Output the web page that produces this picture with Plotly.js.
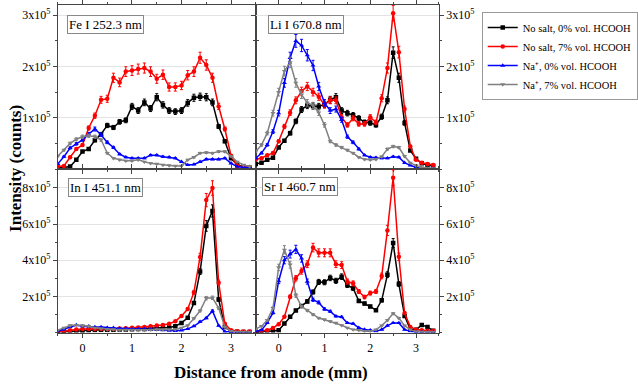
<!DOCTYPE html>
<html>
<head>
<meta charset="utf-8">
<script src="https://cdn.plot.ly/plotly-3.0.1.min.js"></script>
<style>
  body { margin: 0; background: #fff; }
  #chart { width: 638px; height: 384px; }
</style>
</head>
<body>
<div id="chart"></div>
<script>
// distance from anode (mm), same grid for every curve
var distance = [-0.5, -0.375, -0.25, -0.125, 0, 0.125, 0.25, 0.375, 0.5, 0.625, 0.75, 0.875,
  1, 1.125, 1.25, 1.375, 1.5, 1.625, 1.75, 1.875, 2, 2.125, 2.25, 2.375,
  2.5, 2.625, 2.75, 2.875, 3, 3.125, 3.25, 3.375];

var seriesNames = ["No salt, 0% vol. HCOOH", "No salt, 7% vol. HCOOH",
  "Na\u207A, 0% vol. HCOOH", "Na\u207A, 7% vol. HCOOH"];

// Fe I 252.3 nm (counts)
var feNoSalt0 = [3000, 3000, 5000, 18000, 34000, 39000, 56000, 68000, 85000, 81000, 92000, 95000,
  122000, 114000, 130000, 118000, 140000, 125000, 114000, 112000, 114000, 129000, 139000, 141000,
  140000, 130000, 83000, 54000, 21000, 8000, 5000, 3000];
var feNoSalt7 = [5000, 6000, 23000, 39000, 47000, 80000, 104000, 135000, 137000, 178000, 169000, 190000,
  192000, 195000, 197000, 190000, 176000, 184000, 160000, 160000, 163000, 183000, 190000, 217000,
  203000, 178000, 122000, 78000, 26000, 6000, 5000, 4000];
var feNa0 = [10000, 24000, 41000, 49000, 57000, 68000, 78000, 67000, 52000, 42000, 29000, 23000,
  21000, 21000, 21000, 27000, 27000, 24000, 23000, 21000, 14000, 8000, 9000, 14000,
  19000, 19000, 19000, 21000, 11000, 5000, 3000, 3000];
var feNa7 = [25000, 37000, 50000, 58000, 63000, 65000, 63000, 57000, 31000, 21000, 18000, 16000,
  16000, 18000, 14000, 11000, 10000, 8000, 7000, 6000, 6000, 18000, 23000, 31000,
  32000, 31000, 34000, 34000, 25000, 14000, 8000, 5000];

// Li I 670.8 nm
var liNoSalt0 = [10000, 12000, 18000, 22000, 42000, 55000, 70000, 93000, 116000, 124000, 123000, 122000,
  126000, 135000, 140000, 114000, 109000, 105000, 99000, 91000, 90000, 86000, 102000, 134000,
  227000, 178000, 90000, 36000, 20000, 11000, 8000, 6000];
var liNoSalt7 = [19000, 21000, 27000, 31000, 54000, 83000, 110000, 134000, 152000, 161000, 150000, 141000,
  125000, 134000, 134000, 101000, 86000, 99000, 88000, 88000, 101000, 91000, 138000, 197000,
  304000, 228000, 117000, 44000, 18000, 12000, 10000, 8000];
var liNa0 = [21000, 31000, 47000, 73000, 109000, 168000, 217000, 250000, 241000, 222000, 202000, 161000,
  129000, 114000, 117000, 96000, 63000, 52000, 39000, 27000, 23000, 22000, 21000, 21000,
  24000, 23000, 12000, 7000, 3000, 1000, 1000, 1000];
var liNa7 = [34000, 47000, 70000, 109000, 150000, 191000, 208000, 168000, 145000, 129000, 124000, 110000,
  86000, 54000, 47000, 42000, 37000, 31000, 23000, 19000, 18000, 19000, 24000, 39000,
  44000, 42000, 25000, 12000, 7000, 3000, 2000, 1000];

// In I 451.1 nm
var inNoSalt0 = [2000, 3000, 5000, 8000, 10000, 13000, 14000, 15000, 15000, 15000, 16000, 17000,
  18000, 19000, 20000, 21000, 22000, 24000, 28000, 35000, 53000, 81000, 163000, 338000,
  590000, 673000, 183000, 30000, 7000, 4000, 3000, 3000];
var inNoSalt7 = [7000, 7000, 13000, 17000, 20000, 20000, 20000, 20000, 20000, 20000, 22000, 24000,
  26000, 28000, 30000, 35000, 39000, 41000, 48000, 62000, 92000, 130000, 222000, 418000,
  733000, 800000, 276000, 48000, 12000, 7000, 6000, 6000];
var inNa0 = [7000, 17000, 31000, 41000, 35000, 35000, 31000, 30000, 26000, 26000, 22000, 22000,
  20000, 20000, 19000, 17000, 17000, 13000, 11000, 9000, 12000, 20000, 35000, 60000,
  80000, 119000, 38000, 5000, 2000, 2000, 2000, 2000];
var inNa7 = [13000, 26000, 39000, 41000, 39000, 35000, 26000, 22000, 17000, 17000, 15000, 15000,
  15000, 13000, 13000, 15000, 17000, 17000, 17000, 17000, 26000, 39000, 78000, 120000,
  190000, 192000, 135000, 30000, 7000, 4000, 3000, 3000];

// Sr I 460.7 nm
var srNoSalt0 = [3000, 4000, 6000, 8000, 12000, 50000, 87000, 122000, 146000, 172000, 224000, 280000,
  278000, 302000, 286000, 309000, 262000, 245000, 175000, 160000, 144000, 123000, 178000, 320000,
  495000, 268000, 92000, 16000, 15000, 42000, 30000, 10000];
var srNoSalt7 = [8000, 10000, 13000, 25000, 46000, 87000, 198000, 300000, 340000, 378000, 470000, 441000,
  441000, 441000, 378000, 373000, 282000, 272000, 227000, 196000, 218000, 227000, 313000, 565000,
  857000, 419000, 108000, 31000, 16000, 12000, 10000, 10000];
var srNa0 = [7000, 13000, 53000, 108000, 285000, 400000, 434000, 460000, 410000, 282000, 181000, 166000,
  130000, 117000, 90000, 86000, 53000, 49000, 26000, 16000, 13000, 7000, 16000, 38000,
  53000, 53000, 16000, 7000, 4000, 3000, 3000, 3000];
var srNa7 = [20000, 35000, 68000, 135000, 360000, 458000, 375000, 205000, 144000, 122000, 99000, 80000,
  71000, 62000, 53000, 40000, 26000, 16000, 13000, 7000, 7000, 16000, 38000, 68000,
  105000, 80000, 38000, 16000, 5000, 4000, 3000, 3000];

var colors = ["#000000", "#ff0000", "#0000ff", "#808080"];
var symbols = ["square", "circle", "triangle-up", "triangle-down"];

var panels = [
  { xa: "x", ya: "y", label: "Fe I 252.3 nm", series: [feNoSalt0, feNoSalt7, feNa0, feNa7] },
  { xa: "x2", ya: "y2", label: "Li I 670.8 nm", series: [liNoSalt0, liNoSalt7, liNa0, liNa7] },
  { xa: "x3", ya: "y3", label: "In I 451.1 nm", series: [inNoSalt0, inNoSalt7, inNa0, inNa7] },
  { xa: "x4", ya: "y4", label: "Sr I 460.7 nm", series: [srNoSalt0, srNoSalt7, srNa0, srNa7] }
];

var data = [];
panels.forEach(function (p, pi) {
  p.series.forEach(function (vals, si) {
    data.push({
      x: distance,
      y: vals,
      xaxis: p.xa,
      yaxis: p.ya,
      type: "scatter",
      mode: "lines+markers",
      name: seriesNames[si],
      legendgroup: "s" + si,
      showlegend: pi === 0,
      line: { color: colors[si], width: 1.5 },
      marker: { color: colors[si], symbol: symbols[si], size: 4.5 },
      error_y: { type: "percent", value: 5, color: colors[si], thickness: 1, width: 1.5 }
    });
  });
});

var serif = "Liberation Serif, Times New Roman, serif";

// domains in pixels of the 638x384 page
var W = 638, H = 384;
var leftCol = [58 / W, 257 / W];
var rightCol = [257 / W, 441 / W];
var topRow = [1 - 169 / H, 1 - 5 / H];
var botRow = [1 - 332.5 / H, 1 - 169 / H];

function xAxis(domain, anchor, labels) {
  return {
    domain: domain, anchor: anchor, range: [-0.5, 3.5],
    tickvals: [0, 1, 2, 3], showticklabels: labels,
    ticks: "outside", ticklen: 4, tickcolor: "#444",
    minor: { dtick: 0.5, ticks: "outside", ticklen: 2, tickcolor: "#444" },
    showline: true, linecolor: "#444", linewidth: 1, mirror: "ticks",
    showgrid: false, zeroline: false,
    tickfont: { family: serif, size: 12, color: "#000" }, automargin: false
  };
}

function yAxis(domain, anchor, side, range, tv, tt, minorStep) {
  return {
    domain: domain, anchor: anchor, side: side, range: range,
    tickvals: tv, ticktext: tt,
    ticks: "outside", ticklen: 4, tickcolor: "#444",
    minor: { dtick: minorStep, ticks: "outside", ticklen: 2, tickcolor: "#444", showgrid: false },
    showline: true, linecolor: "#444", linewidth: 1, mirror: "ticks",
    showgrid: true, gridcolor: "#e3e3e3", zeroline: false,
    tickfont: { family: serif, size: 12, color: "#000" }, automargin: false
  };
}

var topVals = [100000, 200000, 300000];
var topText = ["1x10<sup>5</sup>", "2x10<sup>5</sup>", "3x10<sup>5</sup>"];
var botVals = [200000, 400000, 600000, 800000];
var botText = ["2x10<sup>5</sup>", "4x10<sup>5</sup>", "6x10<sup>5</sup>", "8x10<sup>5</sup>"];

var annotations = [
  { text: "<b>Intensity (counts)</b>", textangle: -90, x: 15 / W, y: 1 - 168 / H },
  { text: "<b>Distance from anode (mm)</b>", x: 272 / W, y: 1 - 372 / H }
].map(function (a) {
  a.xref = "paper"; a.yref = "paper"; a.showarrow = false;
  a.xanchor = "center"; a.yanchor = "middle";
  a.font = { family: serif, size: 17, color: "#000" };
  return a;
});

// element label boxes in the upper-left corner of each panel
var labelPos = [[67, 15], [269, 15], [68, 178], [263, 177]];
panels.forEach(function (p, i) {
  annotations.push({
    text: p.label, xref: "paper", yref: "paper",
    x: labelPos[i][0] / W, y: 1 - labelPos[i][1] / H,
    xanchor: "left", yanchor: "top", showarrow: false,
    bordercolor: "#888", borderwidth: 1, borderpad: 1, bgcolor: "#fff",
    font: { family: serif, size: 13, color: "#000" }
  });
});

var layout = {
  width: W, height: H,
  margin: { l: 0, r: 0, t: 0, b: 0 },
  paper_bgcolor: "#fff", plot_bgcolor: "#fff",
  font: { family: serif, color: "#000" },
  xaxis: xAxis(leftCol, "y", false),
  yaxis: yAxis(topRow, "x", "left", [0, 320000], topVals, topText, 50000),
  xaxis2: xAxis(rightCol, "y2", false),
  yaxis2: yAxis(topRow, "x2", "right", [0, 320000], topVals, topText, 50000),
  xaxis3: xAxis(leftCol, "y3", true),
  yaxis3: yAxis(botRow, "x3", "left", [0, 905000], botVals, botText, 100000),
  xaxis4: xAxis(rightCol, "y4", true),
  yaxis4: yAxis(botRow, "x4", "right", [0, 905000], botVals, botText, 100000),
  legend: {
    x: 484 / W, y: 1 - 12 / H, xanchor: "left", yanchor: "top",
    bordercolor: "#999", borderwidth: 1, bgcolor: "#fff",
    font: { family: serif, size: 10.5, color: "#000" },
    tracegroupgap: 0, itemwidth: 30
  },
  annotations: annotations,
  showlegend: true
};

Plotly.newPlot("chart", data, layout, { displayModeBar: false, staticPlot: true });
</script>
</body>
</html>
